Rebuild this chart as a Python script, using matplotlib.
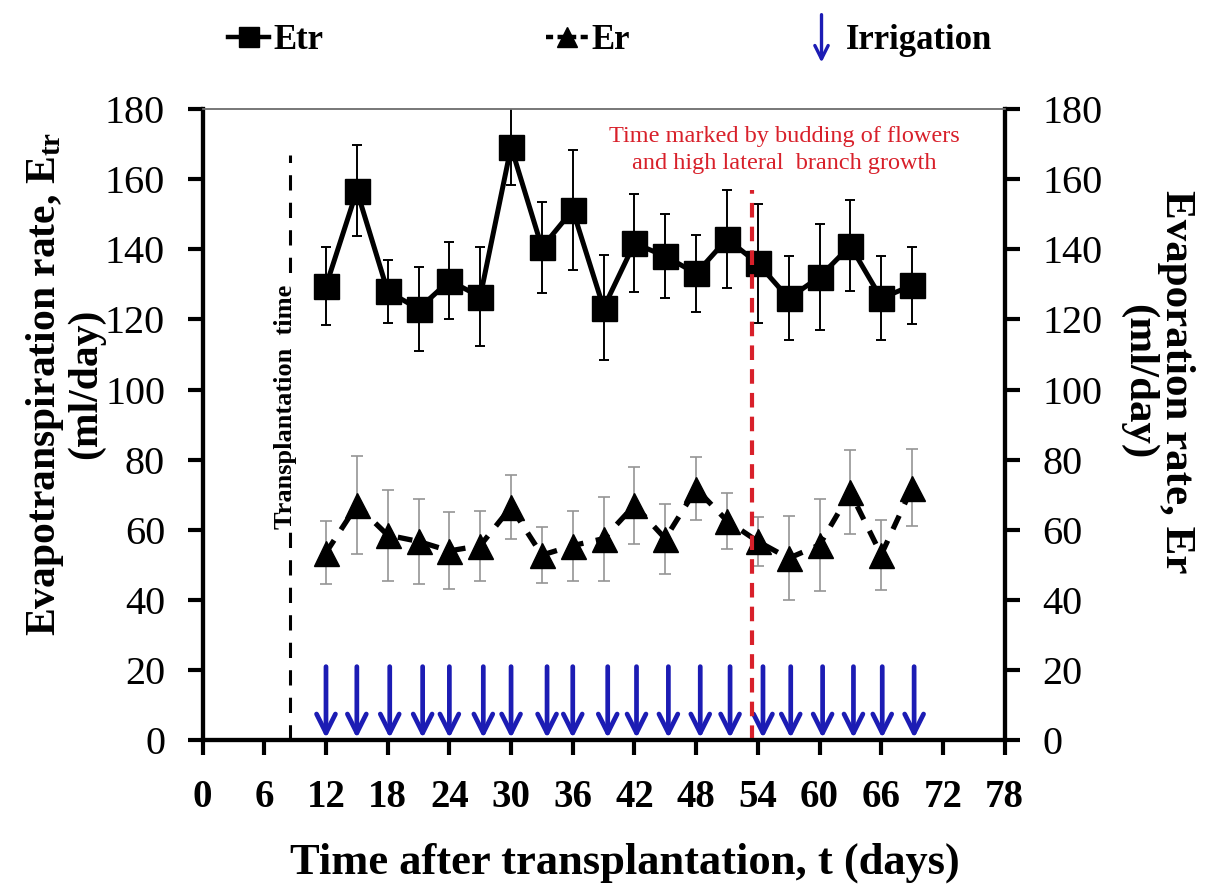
import matplotlib
matplotlib.use('Agg')
import matplotlib.pyplot as plt
from matplotlib.lines import Line2D
from matplotlib.patches import FancyArrowPatch
from matplotlib.legend_handler import HandlerBase

plt.rcParams['font.family'] = ['Liberation Serif', 'DejaVu Serif']
plt.rcParams['mathtext.fontset'] = 'custom'
plt.rcParams['mathtext.rm'] = 'Liberation Serif'
plt.rcParams['mathtext.bf'] = 'Liberation Serif:bold'
plt.rcParams['mathtext.it'] = 'Liberation Serif:italic'

# Data
days = [12, 15, 18, 21, 24, 27, 30, 33, 36, 39, 42, 45, 48, 51, 54, 57, 60, 63, 66, 69]
etr = [129.5, 156.7, 128, 123, 131, 126.5, 169.2, 140.5, 151.2, 123.3,
       141.7, 138, 133.1, 142.9, 136, 126, 132.1, 141, 126, 129.7]
etr_err = [11, 13, 9, 12, 11, 14, 11, 13, 17, 15, 14, 12, 11, 14, 17, 12, 15, 13, 12, 11]
er = [53.5, 67, 58.5, 56.7, 54, 55.5, 66.5, 52.8, 55.5, 57.5,
      67, 57.5, 71.7, 62.6, 56.7, 51.9, 55.7, 70.7, 52.9, 72]
er_err = [9, 14, 13, 12, 11, 10, 9, 8, 10, 12, 11, 10, 9, 8, 7, 12, 13, 12, 10, 11]
irrigation_days = [12, 15, 18.2, 21.4, 24, 27.3, 30, 33.5, 36, 39.4,
                   42.2, 45.3, 48.4, 51.3, 54.5, 57.2, 60.3, 63.3, 66.1, 69.2]
transplant_day = 8.5
budding_day = 53.4
x_ticks = list(range(0, 79, 6))
y_ticks = list(range(0, 181, 20))

blue = '#1c1cb4'
red = '#d8202a'

fig = plt.figure(figsize=(12.06, 8.93), dpi=100)
ax = fig.add_axes([0.168, 0.171, 0.665, 0.707])
ax2 = ax.twinx()

# Etr
ax.errorbar(days, etr, yerr=etr_err, fmt='none', ecolor='black', elinewidth=1.4,
            capsize=3.5, capthick=1.4, zorder=3)
ax.plot(days, etr, color='black', lw=3.6, marker='s', ms=18, zorder=4)

# Er
ax.errorbar(days, er, yerr=er_err, fmt='none', ecolor='#959595', elinewidth=1.2,
            capsize=4, capthick=1.2, zorder=3)
ax.plot(days, er, color='black', lw=3.8, linestyle=(0, (2.8, 2.4)), marker='^', ms=18,
        zorder=4)

# irrigation arrows
for d in irrigation_days:
    ax.annotate('', xy=(d, 0.6), xytext=(d, 21),
                arrowprops=dict(arrowstyle='->', color=blue, lw=3.4,
                                mutation_scale=34, shrinkA=0, shrinkB=0),
                zorder=5)

# transplantation line
ax.plot([transplant_day, transplant_day], [0, 167], color='black', lw=2.2,
        linestyle=(0, (5, 4)), zorder=2)
ax.text(transplant_day - 0.45, 95, 'Transplantation  time', rotation=90, ha='center',
        va='center', fontsize=19, fontweight='bold', zorder=3,
        bbox=dict(facecolor='white', edgecolor='none', pad=2))

# budding line
ax.plot([budding_day, budding_day], [0, 157], color=red, lw=3, linestyle=(0, (3.5, 2.2)),
        zorder=6)
ax.text(56.6, 168.3, 'Time marked by budding of flowers\nand high lateral  branch growth',
        ha='center', va='center', fontsize=17.5, color=red, linespacing=1.4)

ax.set_xlim(0, 78)
ax.set_ylim(0, 180)
ax2.set_ylim(0, 180)
ax.set_xticks(x_ticks)
ax.set_yticks(y_ticks)
ax2.set_yticks(y_ticks)

ax.tick_params(axis='y', direction='out', length=11, width=3, labelsize=29, pad=16)
ax2.tick_params(axis='y', direction='out', length=11, width=3, labelsize=29, pad=16)
ax.tick_params(axis='x', direction='out', length=11, width=3, labelsize=28, pad=17)
for lbl in ax.get_xticklabels():
    lbl.set_fontweight('bold')

for a in (ax, ax2):
    a.spines['top'].set_linewidth(1.2)
    a.spines['top'].set_color('#777777')
    for s in ('left', 'right', 'bottom'):
        a.spines[s].set_linewidth(3)
        a.spines[s].set_color('black')

ax.set_xlabel('Time after transplantation, t (days)', fontsize=32, fontweight='bold')
ax.xaxis.set_label_coords(0.526, -0.194)
ax.xaxis.label.set_va('center')

ax.set_ylabel('Evapotranspiration rate, E$_{\\mathbf{tr}}$\n(ml/day)', fontsize=30,
              fontweight='bold', linespacing=1.0)
ax.yaxis.set_label_coords(-0.172, 0.565)
ax.yaxis.label.set_va('center')

ax2.set_ylabel('Evaporation rate, Er\n(ml/day)', fontsize=31, fontweight='bold',
               rotation=270, linespacing=1.0)
ax2.yaxis.set_label_coords(1.19, 0.568)
ax2.yaxis.label.set_va('center')


class ArrowHandler(HandlerBase):
    def create_artists(self, legend, orig_handle, xdescent, ydescent, width, height,
                       fontsize, trans):
        arr = FancyArrowPatch((width / 2, height + 9), (width / 2, -12),
                              arrowstyle='->', mutation_scale=24, lw=2.4, color=blue,
                              transform=trans)
        return [arr]


h_etr = Line2D([], [], color='black', lw=3.2, marker='s', ms=14)
h_er = Line2D([], [], color='black', lw=3.2, linestyle=(0, (1.6, 1)), marker='^', ms=14)
h_irr = object()

legend_font = dict(size=25, weight='bold')
legend_items = [(h_etr, 'Etr', 0.163), (h_er, 'Er', 0.427), (h_irr, 'Irrigation', 0.638)]
for handle, label, xpos in legend_items:
    fig.legend(handles=[handle], labels=[label], loc='center left',
               bbox_to_anchor=(xpos, 0.955), frameon=False, prop=legend_font,
               handlelength=1.2, handletextpad=0.1,
               handler_map={h_irr: ArrowHandler()})

fig.savefig('out.png', dpi=100)
